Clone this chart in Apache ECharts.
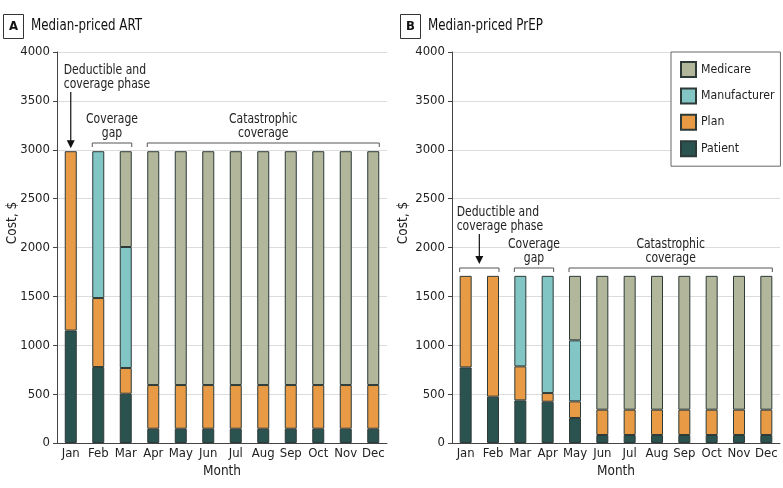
<!DOCTYPE html>
<html><head><meta charset="utf-8">
<script src="https://cdn.jsdelivr.net/npm/echarts@6/dist/echarts.min.js"></script>
<style>html,body{margin:0;padding:0;background:#fff}#c{width:783px;height:488px}</style>
</head><body><div id="c"></div>
<script>
const months = ['Jan','Feb','Mar','Apr','May','Jun','Jul','Aug','Sep','Oct','Nov','Dec'];
const yTicks = [0,500,1000,1500,2000,2500,3000,3500,4000];
const seriesNames = ['Patient','Plan','Manufacturer','Medicare'];

// Panel A: median-priced ART (stack segments, $)
const artPatient      = [1150, 777, 504, 146, 146, 146, 146, 146, 146, 146, 146, 146];
const artPlan         = [1835, 706, 263, 447, 447, 447, 447, 447, 447, 447, 447, 447];
const artManufacturer = [null, 1502, 1238, null, null, null, null, null, null, null, null, null];
const artMedicare     = [null, null, 980, 2392, 2392, 2392, 2392, 2392, 2392, 2392, 2392, 2392];

// Panel B: median-priced PrEP (stack segments, $)
const prepPatient      = [773, 474, 436, 422, 256, 82, 82, 82, 82, 82, 82, 82];
const prepPlan         = [937, 1236, 348, 89, 170, 259, 259, 259, 259, 259, 259, 259];
const prepManufacturer = [null, null, 926, 1199, 624, null, null, null, null, null, null, null];
const prepMedicare     = [null, null, null, null, 660, 1369, 1369, 1369, 1369, 1369, 1369, 1369];

const colors = {Patient:'#2a5350', Plan:'#e99a45', Manufacturer:'#82c5c5', Medicare:'#b2b69a'};
const FONT = '"DejaVu Sans Condensed", "DejaVu Sans", sans-serif';

const chart = echarts.init(document.getElementById('c'), null, {renderer:'canvas'});

function axisX(gi){
  return {type:'category', gridIndex:gi, data:months,
    axisLine:{lineStyle:{color:'#444', width:1}}, axisTick:{show:false},
    axisLabel:{color:'#222', fontSize:13, fontFamily:FONT, margin:4, interval:0},
    name:'Month', nameLocation:'middle', nameGap:21,
    nameTextStyle:{color:'#222', fontSize:13.5, fontFamily:FONT}};
}
function axisY(gi){
  return {type:'value', gridIndex:gi, min:yTicks[0], max:yTicks[yTicks.length-1], interval:500,
    axisLine:{show:true, lineStyle:{color:'#444', width:1}},
    axisTick:{show:true, length:4, lineStyle:{color:'#444'}},
    axisLabel:{color:'#222', fontSize:13, fontFamily:FONT, margin:7, formatter: v => String(v)},
    splitLine:{lineStyle:{color:'#dcdcdc', width:1}}};
}
function mk(gi, name, data){
  return {type:'bar', name:name, xAxisIndex:gi, yAxisIndex:gi, stack:'s'+gi, data:data,
    barWidth:12, itemStyle:{color:colors[name], borderColor:'#2e3a38', borderWidth:1},
    emphasis:{disabled:true}};
}

chart.setOption({
  animation:false,
  textStyle:{fontFamily:FONT},
  grid:[{left:57, right:396, top:52, bottom:45},{left:452, right:3, top:52, bottom:45}],
  xAxis:[axisX(0), axisX(1)],
  yAxis:[axisY(0), axisY(1)],
  legend:{orient:'vertical', left:671, top:52, data:['Medicare','Manufacturer','Plan','Patient'],
    backgroundColor:'#fff', borderColor:'#666', borderWidth:1,
    padding:[9,6,9,9], itemWidth:15, itemHeight:15, itemGap:9.4, icon:'rect',
    textStyle:{fontSize:12.2, fontFamily:FONT, color:'#222'}, selectedMode:false},
  series:[
    mk(0,'Patient',artPatient), mk(0,'Plan',artPlan), mk(0,'Manufacturer',artManufacturer), mk(0,'Medicare',artMedicare),
    mk(1,'Patient',prepPatient), mk(1,'Plan',prepPlan), mk(1,'Manufacturer',prepManufacturer), mk(1,'Medicare',prepMedicare)
  ]
});

function px(gi, cat, val){ return chart.convertToPixel({xAxisIndex:gi, yAxisIndex:gi}, [cat, val]); }
const half = 6;
const g = [];
const AF = '14px '+FONT;
const SX = 0.86;
const txt = (x,y,s,align,extra) => g.push(Object.assign({type:'text', x:x, y:y, scaleX:SX, silent:true,
  style:{text:s, fill:'#222', font:AF, textAlign:align||'center', textVerticalAlign:'middle'}}, extra||{}));
function bracket(gi, c0, c1, yPix){
  const x0 = px(gi, c0, 0)[0]-half, x1 = px(gi, c1, 0)[0]+half;
  g.push({type:'polyline', silent:true, shape:{points:[[x0,yPix+4],[x0,yPix],[x1,yPix],[x1,yPix+4]]},
    style:{stroke:'#555', lineWidth:1, fill:null}});
  return (x0+x1)/2;
}
function arrow(x, y0, y1){
  g.push({type:'line', silent:true, shape:{x1:x,y1:y0,x2:x,y2:y1-7}, style:{stroke:'#111', lineWidth:1.2}});
  g.push({type:'polygon', silent:true, shape:{points:[[x-4,y1-8],[x+4,y1-8],[x,y1]]}, style:{fill:'#111'}});
}

// Panel titles
function title(x0, letter, label){
  g.push({type:'rect', silent:true, shape:{x:x0+0.5, y:14.5, width:20, height:24}, style:{fill:'#fff', stroke:'#333', lineWidth:1}});
  g.push({type:'text', x:x0+10.5, y:27, silent:true, style:{text:letter, fill:'#111', font:'bold 13px '+FONT, textAlign:'center', textVerticalAlign:'middle'}});
  g.push({type:'text', x:x0+28, y:26, scaleX:0.88, silent:true, style:{text:label, fill:'#111', font:'15px '+FONT, textAlign:'left', textVerticalAlign:'middle'}});
}
title(3, 'A', 'Median-priced ART');
title(400, 'B', 'Median-priced PrEP');

// y axis names
[12, 403].forEach(x => g.push({type:'text', x:x, y:223, rotation:Math.PI/2, silent:true,
  style:{text:'Cost, $', fill:'#222', font:'13.5px '+FONT, textAlign:'center', textVerticalAlign:'middle'}}));

// Panel A annotations
const aJan = px(0,'Jan',2985);
txt(aJan[0]-half-1, 70, 'Deductible and', 'left');
txt(aJan[0]-half-1, 84, 'coverage phase', 'left');
arrow(aJan[0], 92, aJan[1]-3);
const aBy = 143;
let cx = bracket(0,'Feb','Mar',aBy);
txt(cx, aBy-24, 'Coverage'); txt(cx, aBy-10, 'gap');
cx = bracket(0,'Apr','Dec',aBy);
txt(cx, aBy-24, 'Catastrophic'); txt(cx, aBy-10, 'coverage');

// Panel B annotations
const bBy = 268;
cx = bracket(1,'Jan','Feb',bBy);
const bJan = px(1,'Jan',0);
txt(bJan[0]-half-3, bBy-56, 'Deductible and', 'left');
txt(bJan[0]-half-3, bBy-42, 'coverage phase', 'left');
arrow(cx, bBy-34, bBy-4);
cx = bracket(1,'Mar','Apr',bBy);
txt(cx, bBy-24, 'Coverage'); txt(cx, bBy-10, 'gap');
cx = bracket(1,'May','Dec',bBy);
txt(cx, bBy-24, 'Catastrophic'); txt(cx, bBy-10, 'coverage');

chart.setOption({graphic:{elements:g}});
</script></body></html>
